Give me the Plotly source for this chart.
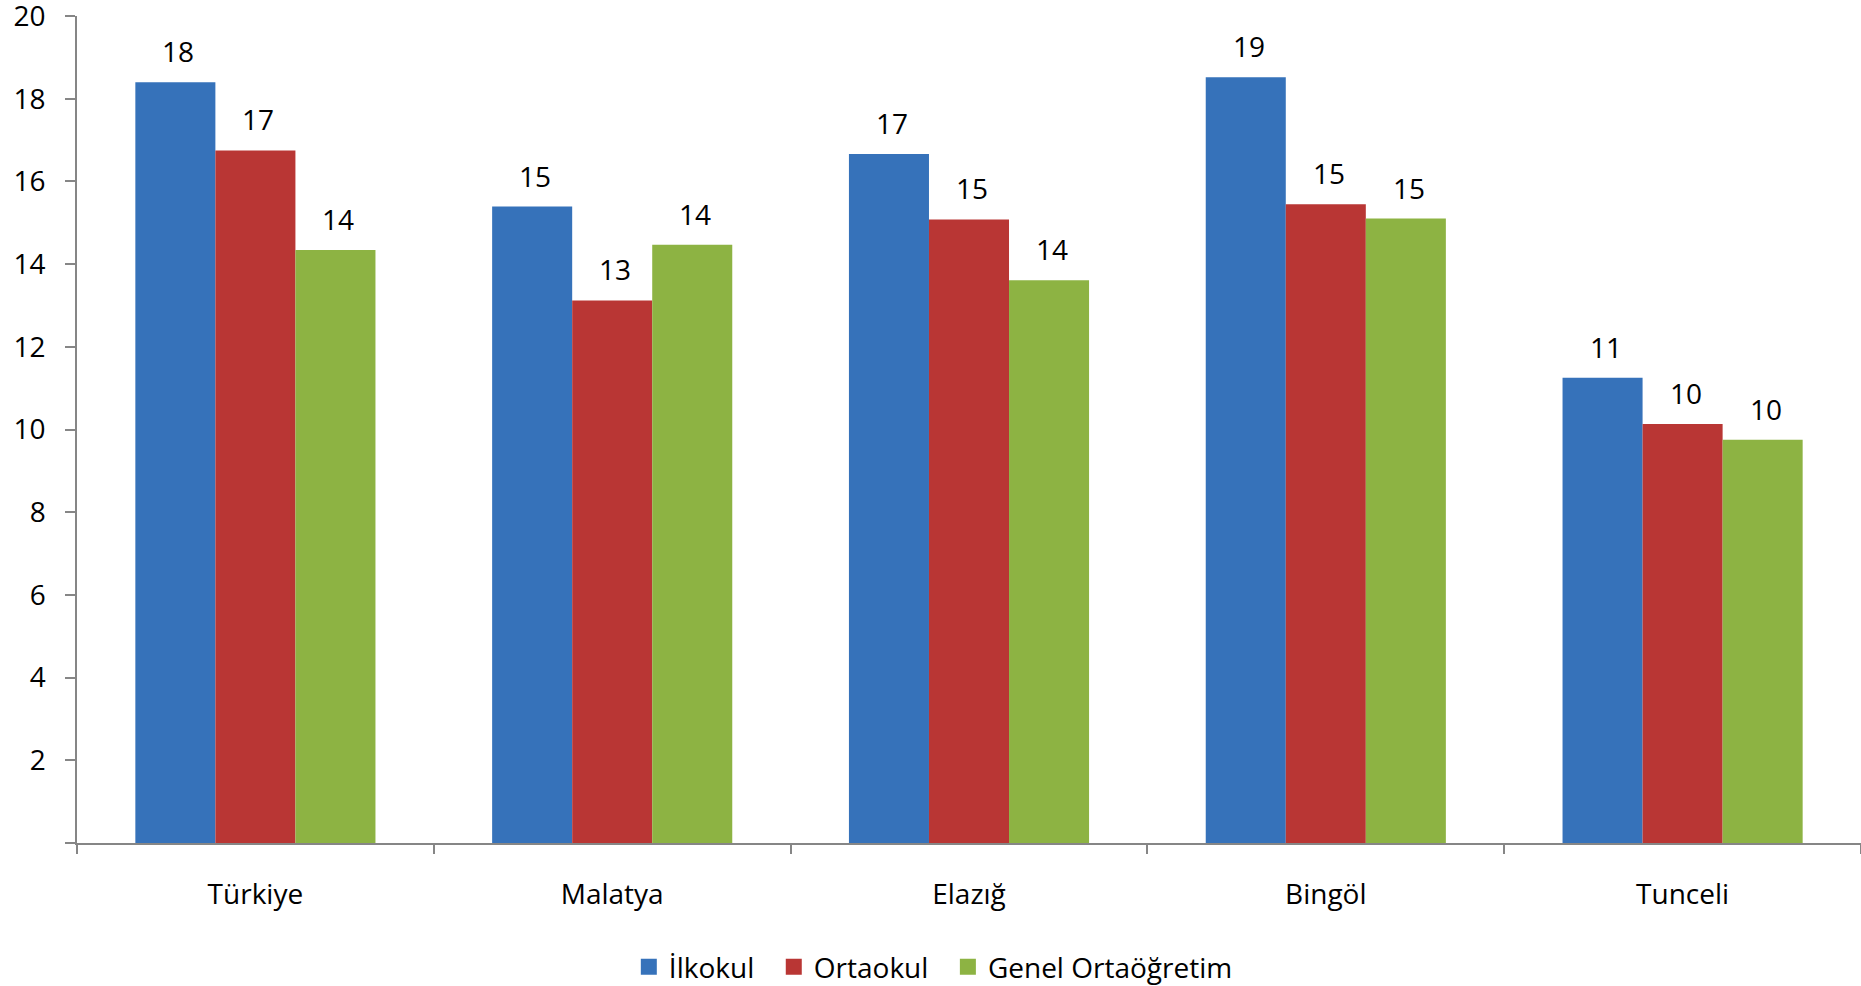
import plotly.graph_objects as go

categories = ["Türkiye", "Malatya", "Elazığ", "Bingöl", "Tunceli"]
series_names = ["İlkokul", "Ortaokul", "Genel Ortaöğretim"]
ilkokul = [18.40, 15.39, 16.66, 18.52, 11.25]
ortaokul = [16.75, 13.12, 15.08, 15.45, 10.13]
genel = [14.34, 14.47, 13.61, 15.10, 9.75]
ytick_vals = [0, 2, 4, 6, 8, 10, 12, 14, 16, 18, 20]
ytick_text = ["", "2", "4", "6", "8", "10", "12", "14", "16", "18", "20"]

colors = ["#3672BA", "#B93634", "#8DB343"]
values = [ilkokul, ortaokul, genel]
legend_pad = ["\u00a0" * 2, "\u00a0" * 2, ""]

W, H = 1861, 986
ML, MR, MT, MB = 77, 0, 16, 143
BARGAP = 0.327
FONT = "Open Sans"
FS = 28

fig = go.Figure()
for name, vals, col, pad in zip(series_names, values, colors, legend_pad):
    fig.add_trace(go.Bar(
        x=categories, y=vals, name=name, marker=dict(color=col, line=dict(width=0)),
        showlegend=False, hoverinfo="x+y"))
    # legend-only entry with larger square symbol
    fig.add_trace(go.Scatter(
        x=[None], y=[None], mode="markers", name=name + pad,
        marker=dict(symbol="square", size=16, color=col)))

plot_w = W - ML - MR
cat_w = plot_w / len(categories)
bar_w = cat_w * (1 - BARGAP) / len(series_names)

annotations = []
for i, vals in enumerate(values):
    for c, v in zip(categories, vals):
        annotations.append(dict(
            x=c, y=v, xref="x", yref="y", text=f"{round(v):d}",
            showarrow=False, yanchor="bottom", xanchor="center",
            xshift=(i - 1) * bar_w + 3, yshift=10,
            font=dict(family=FONT, size=FS, color="#000000")))

fig.update_layout(
    width=W, height=H,
    margin=dict(l=ML, r=MR, t=MT, b=MB, pad=0, autoexpand=False),
    barmode="group", bargap=BARGAP, bargroupgap=0,
    plot_bgcolor="white", paper_bgcolor="white",
    font=dict(family=FONT, size=FS, color="#000000"),
    annotations=annotations,
    legend=dict(orientation="h", x=0.480, xanchor="center", y=-0.15, yanchor="middle",
                font=dict(family=FONT, size=FS, color="#000000"),
                itemsizing="trace", traceorder="normal", itemwidth=30),
    xaxis=dict(
        showline=True, linecolor="#868686", linewidth=1.5,
        ticks="outside", ticklen=9, tickcolor="#868686", tickwidth=1.5,
        tickson="boundaries", showgrid=False, zeroline=False,
        tickfont=dict(family=FONT, size=FS), ticklabelstandoff=26,
        range=[-0.5, 4.5]),
    yaxis=dict(
        range=[0, 20], tickvals=ytick_vals, ticktext=ytick_text,
        showline=True, linecolor="#868686", linewidth=1.5,
        ticks="outside", ticklen=10, tickcolor="#868686", tickwidth=1.5,
        showgrid=False, zeroline=False, ticklabeloverflow="allow",
        tickfont=dict(family=FONT, size=FS), ticklabelstandoff=14),
)

fig.write_html("out.html", config={"displayModeBar": False},
               post_script="document.body.style.margin='0';document.body.style.overflow='hidden';")
